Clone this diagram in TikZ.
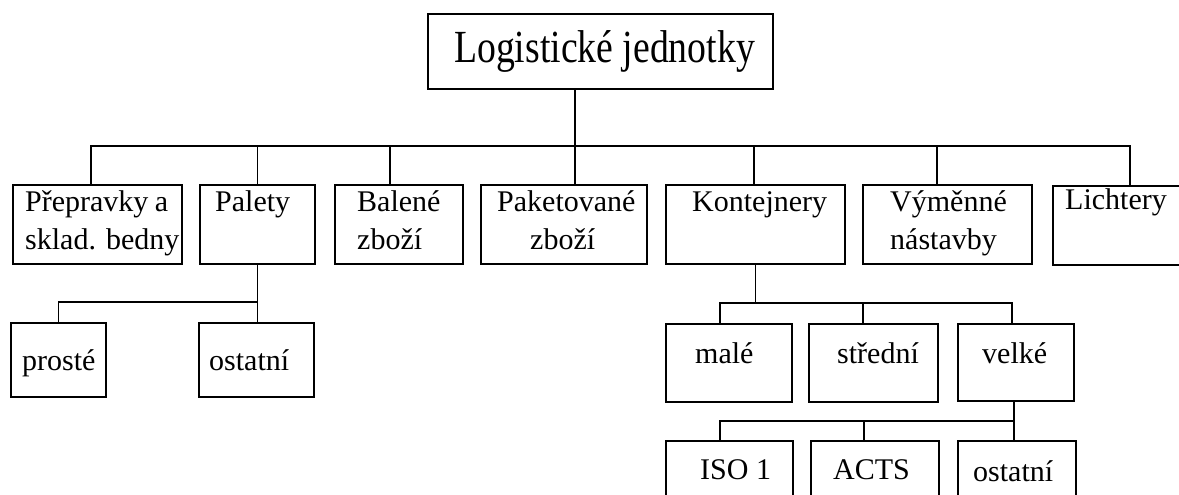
\documentclass[tikz,border=0pt]{standalone}
\usepackage{fontspec}
\setmainfont{Liberation Serif}
\newfontfamily\topfont[FakeStretch=0.82]{Liberation Serif}
\usetikzlibrary{calc}
\begin{document}
\begin{tikzpicture}[x=1pt,y=-1pt,
  box/.style={draw, line width=1.8pt, inner sep=0pt, anchor=north west},
  txt/.style={anchor=base west, inner sep=0pt, font=\fontsize{30}{36}\selectfont},
  conn/.style={line width=1.8pt}]
\useasboundingbox (0,0) rectangle (1179,495);
\clip (0,0) rectangle (1179,495);
\fill[white] (0,0) rectangle (1179,495);
% boxes
\node[box, minimum width=345pt, minimum height=75pt] (top) at (427,13) {};
\node[box, minimum width=169pt, minimum height=79pt] (prep) at (12,184) {};
\node[box, minimum width=115pt, minimum height=79pt] (pal) at (199,184) {};
\node[box, minimum width=128pt, minimum height=79pt] (bal) at (334,184) {};
\node[box, minimum width=166pt, minimum height=79pt] (pak) at (480,184) {};
\node[box, minimum width=179pt, minimum height=79pt] (kon) at (665,184) {};
\node[box, minimum width=169pt, minimum height=79pt] (vym) at (862,184) {};
\node[box, minimum width=140pt, minimum height=79pt] (lich) at (1052,185) {};
\node[box, minimum width=95pt, minimum height=74pt] (pros) at (10,322) {};
\node[box, minimum width=115pt, minimum height=74pt] (ostA) at (198,322) {};
\node[box, minimum width=126pt, minimum height=78pt] (male) at (665,323) {};
\node[box, minimum width=129pt, minimum height=78pt] (stred) at (808,323) {};
\node[box, minimum width=116pt, minimum height=77pt] (velke) at (957,323) {};
\node[box, minimum width=127pt, minimum height=80pt] (iso) at (665,440) {};
\node[box, minimum width=128pt, minimum height=80pt] (acts) at (810,440) {};
\node[box, minimum width=118pt, minimum height=80pt] (ostB) at (957,440) {};
% texts
\node[txt, font=\topfont\fontsize{46}{50}\selectfont] (topT) at (454,63) {Logistické jednotky};
\node[txt] (prepT1) at (25,211) {\makebox[143pt][s]{Přepravky a}};
\node[txt] (prepT2) at (25,249) {sklad. bedny};
\node[txt] (palT) at (215,211) {Palety};
\node[txt] (balT1) at (357,211) {Balené};
\node[txt] (balT2) at (357,249) {zboží};
\node[txt] (pakT1) at (497,211) {Paketované};
\node[txt] (pakT2) at (530,249) {zboží};
\node[txt] (konT) at (692,211) {Kontejnery};
\node[txt] (vymT1) at (890,211) {Výměnné};
\node[txt] (vymT2) at (890,249) {nástavby};
\node[txt] (lichT) at (1065,209) {Lichtery};
\node[txt] (prosT) at (22,370) {prosté};
\node[txt] (ostAT) at (209,370) {ostatní};
\node[txt] (maleT) at (695,363) {malé};
\node[txt] (stredT) at (837,363) {střední};
\node[txt] (velkeT) at (982,363) {velké};
\node[txt] (isoT) at (700,479) {ISO 1};
\node[txt] (actsT) at (833,479) {ACTS};
\node[txt] (ostBT) at (973,481) {ostatní};
% connector points
\coordinate (b1) at (0,146);
\coordinate (b2) at (0,302);
\coordinate (b3) at (0,303);
\coordinate (b4) at (0,421);
\coordinate (dTop) at ($(top.south)+(-25.5,0)$);
\coordinate (dPrep) at ($(prep.north)+(-6.5,0)$);
\coordinate (dPal) at (pal.north);
\coordinate (dBal) at ($(bal.north)+(-9,0)$);
\coordinate (dKon) at ($(kon.north)+(-1.5,0)$);
\coordinate (dVym) at ($(vym.north)+(-10.5,0)$);
\coordinate (dLich) at ($(lich.north)+(7,0)$);
\coordinate (dPros) at (pros.north);
\coordinate (dMale) at ($(male.north)+(-9,0)$);
\coordinate (dStred) at ($(stred.north)+(-10.5,0)$);
\coordinate (dVelke) at ($(velke.north)+(-4,0)$);
\coordinate (dIso) at ($(iso.north)+(-9.5,0)$);
\coordinate (dActs) at ($(acts.north)+(-11,0)$);
\coordinate (dOstB) at ($(ostB.north)+(-3,0)$);
% level 0 -> 1
\draw[conn] (dTop) -- (dTop |- pak.north);
\draw[conn] (dPrep) -- (dPrep |- b1) -- (dLich |- b1) -- (dLich);
\foreach \d in {dPal,dBal,dKon,dVym} \draw[conn] (\d) -- (\d |- b1);
% Palety
\draw[conn] (pal.south) -- (pal.south |- ostA.north);
\draw[conn] (dPros) -- (dPros |- b2) -- (pal.south |- b2);
% Kontejnery
\draw[conn] (kon.south) -- (kon.south |- b3);
\draw[conn] (dMale) -- (dMale |- b3) -- (dVelke |- b3) -- (dVelke);
\draw[conn] (dStred) -- (dStred |- b3);
% velke
\draw[conn] (dOstB |- velke.south) -- (dOstB);
\draw[conn] (dIso) -- (dIso |- b4) -- (dOstB |- b4);
\draw[conn] (dActs) -- (dActs |- b4);
\end{tikzpicture}
\end{document}
